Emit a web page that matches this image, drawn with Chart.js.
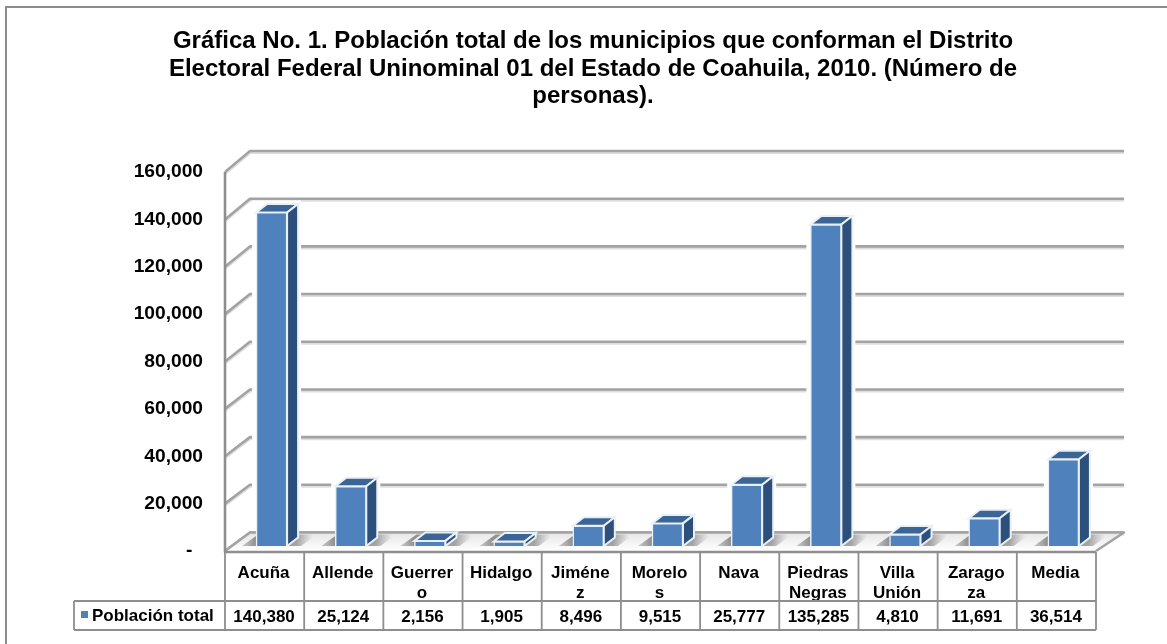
<!DOCTYPE html>
<html><head><meta charset="utf-8">
<style>
html,body{margin:0;padding:0;background:#fff;overflow:hidden}
#frame{position:absolute;left:5px;top:6px;width:1162px;height:638px;border-left:2px solid #8c8c8c;border-top:2px solid #8c8c8c;box-sizing:border-box}
#wrap{position:absolute;left:20px;top:0;width:1147px;height:644px}
</style>
<script src="https://cdn.jsdelivr.net/npm/chart.js@4"></script>
</head><body>
<div id="frame"></div>
<div id="wrap"><canvas id="c"></canvas></div>
<script>
const titleLines = ["Gráfica No. 1. Población total de los municipios que conforman el Distrito","Electoral Federal Uninominal 01 del Estado de Coahuila, 2010. (Número de","personas)."];
const categories = [["Acuña"],["Allende"],["Guerrer","o"],["Hidalgo"],["Jiméne","z"],["Morelo","s"],["Nava"],["Piedras","Negras"],["Villa","Unión"],["Zarago","za"],["Media"]];
const seriesName = "Población total";
const values = [140380,25124,2156,1905,8496,9515,25777,135285,4810,11691,36514];
const valueLabels = ["140,380","25,124","2,156","1,905","8,496","9,515","25,777","135,285","4,810","11,691","36,514"];
const FONT = '"Liberation Sans", Arial, sans-serif';
const BLUE = '#4F81BD', TOP = '#3A6595', SIDE = '#2C4F7C', LINE = '#A3A3A3', TLINE = '#8E8E8E';
const DX = 25, DY = -18.5;   // depth of the 3D box
const TABLE_SHIFT = -7;      // table and front axis sit left of the bars

const depthPlugin = {
  id:'depth',
  beforeDatasetsDraw(chart){
    const {ctx,scales:{y},chartArea:a} = chart;
    const L = a.left+TABLE_SHIFT, R = a.right+TABLE_SHIFT, y0 = y.getPixelForValue(0);
    const fy = y0+DY;
    const back = v => y.getPixelForValue(v)+DY-2.5*v/160000;
    const meta = chart.getDatasetMeta(0);
    ctx.save();
    // grid: diagonal on the left wall then the back wall
    ctx.lineCap='butt';ctx.lineJoin='round';
    y.ticks.forEach(t=>{
      const p=y.getPixelForValue(t.value), q=back(t.value);
      ctx.strokeStyle='rgba(190,190,190,.5)';ctx.lineWidth=3;
      ctx.beginPath();ctx.moveTo(L,p+1.5);ctx.lineTo(L+DX,q+1.5);ctx.lineTo(R+DX+3,q+1.5);ctx.stroke();
      ctx.strokeStyle=LINE;ctx.lineWidth=2.6;
      ctx.beginPath();ctx.moveTo(L,p);ctx.lineTo(L+DX,q);ctx.lineTo(R+DX+3,q);ctx.stroke();
    });
    // white halo cut out of the grid behind each bar
    ctx.fillStyle='#fff';
    meta.data.forEach(b=>{
      const w=b.width;
      ctx.fillRect(b.x-w/2-4,b.y-12,w+11+7,Math.max(0,fy-2-(b.y-12)));
    });
    // floor
    const g = ctx.createLinearGradient(0,fy,0,y0);
    g.addColorStop(0,'#e6e6e6'); g.addColorStop(1,'#ffffff');
    ctx.fillStyle = g;
    ctx.beginPath();ctx.moveTo(L,y0);ctx.lineTo(R,y0);ctx.lineTo(R+DX+3,fy);ctx.lineTo(L+DX,fy);ctx.closePath();ctx.fill();
    // soft shadows on the floor around each bar
    meta.data.forEach(b=>{
      const w=b.width, x=b.x-w/2;
      const s=ctx.createLinearGradient(x-26,0,x+w+26,0);
      s.addColorStop(0,'rgba(110,110,110,0)');s.addColorStop(.3,'rgba(95,95,95,.65)');
      s.addColorStop(.8,'rgba(95,95,95,.55)');s.addColorStop(1,'rgba(110,110,110,0)');
      ctx.fillStyle=s;
      ctx.beginPath();ctx.moveTo(x-14,y0-5);ctx.lineTo(x+w+14,y0-5);ctx.lineTo(x+w+30,fy+2);ctx.lineTo(x+2,fy+2);ctx.closePath();ctx.fill();
    });
    // floor back and right edges
    ctx.strokeStyle=LINE;ctx.lineWidth=2.6;
    ctx.beginPath();ctx.moveTo(L,y0);ctx.lineTo(L+DX,fy);ctx.lineTo(R+DX+3,fy);ctx.lineTo(R,y0);ctx.stroke();
    // front vertical axis and front floor edge
    ctx.strokeStyle=TLINE;ctx.lineWidth=2.6;
    ctx.beginPath();ctx.moveTo(L,y.getPixelForValue(160000));ctx.lineTo(L,y0+1);ctx.lineTo(R,y0+1);ctx.stroke();
    // 3D faces of each bar
    meta.data.forEach(b=>{
      const w=b.width, x0=b.x-w/2, x1=b.x+w/2, t=b.y, ba=b.base, d=11, e=-8.5;
      ctx.lineWidth=2;ctx.strokeStyle='#EAF0F7';ctx.lineJoin='miter';
      ctx.fillStyle=TOP;
      ctx.beginPath();ctx.moveTo(x0,t);ctx.lineTo(x0+d,t+e);ctx.lineTo(x1+d,t+e);ctx.lineTo(x1,t);ctx.closePath();ctx.fill();ctx.stroke();
      ctx.fillStyle=SIDE;
      ctx.beginPath();ctx.moveTo(x1,t);ctx.lineTo(x1+d,t+e);ctx.lineTo(x1+d,ba+e);ctx.lineTo(x1,ba);ctx.closePath();ctx.fill();ctx.stroke();
    });
    ctx.restore();
  },
  afterDraw(chart){
    const {ctx,scales:{x,y},chartArea:a} = chart;
    const y0=y.getPixelForValue(0), L=a.left+TABLE_SHIFT, R=a.right+TABLE_SHIFT;
    const rowTop=y0+1, rowMid=rowTop+49, rowBot=rowMid+29, left=54;
    const cw=(R-L)/categories.length;
    ctx.save();
    ctx.strokeStyle=TLINE;ctx.lineWidth=1.8;
    ctx.beginPath();
    for(let i=0;i<=categories.length;i++){const X=L+i*cw;ctx.moveTo(X,rowTop);ctx.lineTo(X,rowBot);}
    ctx.moveTo(left,rowMid);ctx.lineTo(R,rowMid);
    ctx.moveTo(left,rowBot);ctx.lineTo(R,rowBot);
    ctx.moveTo(left,rowMid);ctx.lineTo(left,rowBot);
    ctx.stroke();
    ctx.fillStyle='#000';ctx.font='bold 17px '+FONT;ctx.textBaseline='middle';ctx.textAlign='center';
    valueLabels.forEach((v,i)=>ctx.fillText(v,x.getPixelForTick(i)+TABLE_SHIFT-0.5,(rowMid+rowBot)/2+2));
    ctx.textAlign='left';
    ctx.fillStyle=BLUE;ctx.fillRect(left+7,rowMid+10,7,7);
    ctx.fillStyle='#000';ctx.fillText(seriesName,left+18,(rowMid+rowBot)/2+1);
    ctx.restore();
  }
};

new Chart(document.getElementById('c'),{
  type:'bar',
  data:{labels:categories,datasets:[{label:seriesName,data:values,yAxisID:'yBars',backgroundColor:BLUE,borderColor:'#EAF0F7',borderWidth:1.5,barThickness:31}]},
  plugins:[depthPlugin],
  options:{
    responsive:true,maintainAspectRatio:false,animation:false,
    layout:{padding:{left:63,right:64,top:0,bottom:0}},
    plugins:{
      legend:{display:false},tooltip:{enabled:false},
      title:{display:true,text:titleLines,color:'#000',font:{family:FONT,size:24,weight:'bold',lineHeight:1.146},padding:{top:28,bottom:61.5}}
    },
    scales:{
      x:{grid:{display:false},border:{display:false},
         afterFit(s){s.height=93;},
         ticks:{color:'#000',font:{family:FONT,size:17,weight:'bold',lineHeight:1.18},padding:4,labelOffset:-8,maxRotation:0,autoSkip:false}},
      y:{min:0,max:160000,grid:{display:false},border:{display:false},
         afterFit(s){s.width=149;},
         ticks:{stepSize:20000,color:'#000',font:{family:FONT,size:19.2,weight:'bold'},padding:21,
                callback:v=>v===0?'-  ':v.toLocaleString('en-US')}},
      yBars:{display:false,min:-2100,max:157400}
    }
  }
});
</script>
</body></html>
